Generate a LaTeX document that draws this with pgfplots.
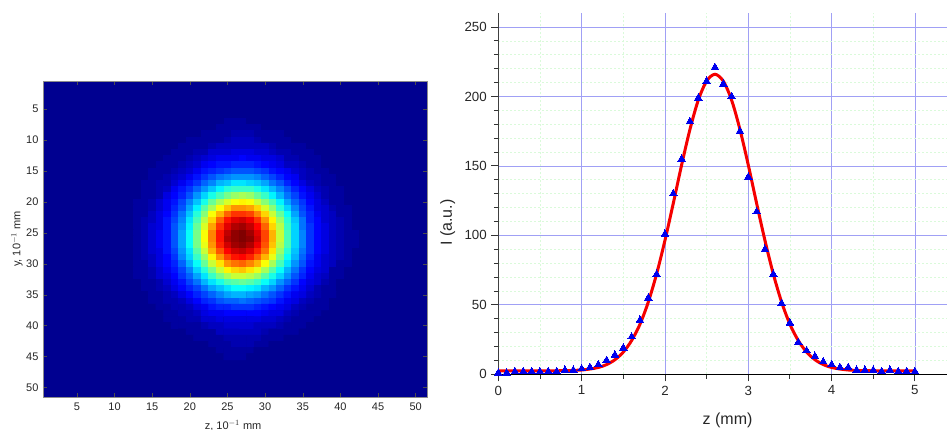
\documentclass[border=0pt]{standalone}
\usepackage{fontspec}
\setmainfont{Liberation Sans}
\usepackage{pgfplots}
\pgfplotsset{compat=1.18}
\definecolor{markblue}{RGB}{0,0,238}
\definecolor{gridblue}{RGB}{160,160,245}
\definecolor{gridgreen}{RGB}{218,250,218}
\begin{document}
\begin{tikzpicture}[x=1pt,y=1pt]
\useasboundingbox (0,0) rectangle (947,430);
\begin{axis}[
  at={(43pt,33pt)},anchor=south west,
  scale only axis,width=384pt,height=316pt,
  xmin=0.5,xmax=51.5,ymin=0.5,ymax=51.5,y dir=reverse,
  xtick={5,10,...,50},ytick={5,10,...,50},
  tick align=inside,major tick length=4pt,
  tick style={color=black!70,line width=0.5pt},
  axis line style={color=black!45,line width=0.7pt},
  /pgf/number format/assume math mode=true,
  tick label style={font=\fontsize{11}{12}\selectfont,color=black!85},
  xticklabel style={yshift=-2pt},
  yticklabel style={xshift=-1pt},
  xlabel={z, 10$^{-1}$ mm},ylabel={y, 10$^{-1}$ mm},
  label style={font=\fontsize{11}{12}\selectfont,color=black!85},
  xlabel style={at={(axis description cs:0.495,0)},anchor=center,yshift=-28.5pt},
  ylabel style={at={(axis description cs:0,0.5)},anchor=center,yshift=26pt},
  colormap/jet,point meta min=0,point meta max=63,
  axis background/.style={fill={rgb,255:red,0;green,0;blue,144}},
]
\addplot[matrix plot*,mesh/cols=34,point meta=explicit] table[
  row sep=crcr,header=false,
  x expr={mod(\coordindex,34)+11},
  y expr={floor(\coordindex/34)+7},
  meta index=0] {
1\\1\\1\\1\\1\\1\\1\\1\\1\\1\\1\\1\\1\\1\\2\\2\\2\\1\\1\\1\\1\\1\\1\\1\\1\\1\\1\\1\\1\\1\\1\\1\\1\\1\\
1\\1\\1\\1\\1\\1\\1\\1\\1\\1\\1\\1\\1\\2\\2\\2\\2\\2\\2\\1\\1\\1\\1\\1\\1\\1\\1\\1\\1\\1\\1\\1\\1\\1\\
1\\1\\1\\1\\1\\1\\1\\1\\1\\1\\1\\2\\2\\2\\2\\3\\3\\3\\2\\2\\2\\2\\1\\1\\1\\1\\1\\1\\1\\1\\1\\1\\1\\1\\
1\\1\\1\\1\\1\\1\\1\\1\\1\\2\\2\\2\\2\\2\\3\\4\\4\\4\\3\\2\\2\\2\\2\\1\\1\\1\\1\\1\\1\\1\\1\\1\\1\\1\\
1\\1\\1\\1\\1\\1\\1\\1\\2\\2\\2\\2\\3\\4\\4\\4\\4\\4\\4\\4\\3\\2\\2\\2\\2\\1\\1\\1\\1\\1\\1\\1\\1\\1\\
1\\1\\1\\1\\1\\1\\1\\2\\2\\2\\3\\3\\5\\5\\5\\6\\6\\6\\5\\5\\4\\3\\3\\2\\2\\2\\1\\1\\1\\1\\1\\1\\1\\1\\
1\\1\\1\\1\\1\\1\\2\\2\\2\\3\\4\\5\\6\\7\\7\\7\\8\\7\\7\\6\\6\\5\\3\\3\\2\\2\\2\\1\\1\\1\\1\\1\\1\\1\\
1\\1\\1\\1\\1\\2\\2\\2\\3\\4\\5\\7\\8\\9\\9\\10\\10\\10\\9\\8\\7\\6\\4\\4\\3\\2\\2\\1\\1\\1\\1\\1\\1\\1\\
1\\1\\1\\1\\2\\2\\2\\3\\4\\5\\7\\9\\10\\11\\12\\13\\13\\13\\12\\11\\9\\8\\7\\5\\4\\3\\2\\2\\1\\1\\1\\1\\1\\1\\
1\\1\\1\\1\\2\\2\\3\\4\\5\\7\\9\\11\\13\\15\\16\\17\\17\\17\\16\\14\\12\\10\\8\\7\\4\\3\\3\\2\\2\\1\\1\\1\\1\\1\\
1\\1\\1\\2\\2\\3\\3\\5\\7\\9\\11\\14\\16\\19\\20\\22\\22\\21\\20\\18\\15\\13\\10\\8\\6\\4\\3\\2\\2\\1\\1\\1\\1\\1\\
1\\1\\1\\2\\2\\3\\4\\7\\9\\11\\14\\17\\20\\23\\26\\27\\27\\27\\25\\22\\19\\16\\13\\10\\8\\6\\4\\3\\2\\2\\1\\1\\1\\1\\
1\\1\\1\\2\\2\\3\\6\\8\\10\\13\\17\\21\\25\\28\\31\\33\\34\\33\\30\\27\\23\\19\\15\\12\\9\\7\\5\\3\\2\\2\\1\\1\\1\\1\\
1\\1\\2\\2\\3\\5\\7\\9\\12\\16\\20\\25\\30\\34\\37\\39\\40\\39\\36\\32\\28\\23\\18\\14\\11\\8\\6\\4\\2\\2\\1\\1\\1\\1\\
1\\1\\2\\2\\3\\5\\7\\10\\13\\18\\23\\29\\34\\39\\43\\46\\46\\45\\42\\37\\32\\26\\21\\16\\12\\9\\6\\5\\3\\2\\2\\1\\1\\1\\
1\\1\\2\\2\\4\\6\\8\\11\\15\\20\\26\\32\\39\\44\\49\\52\\52\\51\\47\\42\\36\\30\\24\\18\\13\\10\\7\\5\\4\\2\\2\\1\\1\\1\\
1\\1\\2\\3\\4\\6\\9\\12\\16\\22\\28\\35\\42\\49\\54\\57\\58\\56\\52\\46\\40\\33\\26\\20\\15\\10\\8\\5\\4\\3\\2\\1\\1\\1\\
1\\1\\2\\3\\5\\6\\9\\13\\17\\23\\30\\37\\45\\52\\57\\60\\61\\59\\55\\49\\42\\35\\27\\21\\15\\11\\8\\6\\4\\3\\2\\1\\1\\1\\
1\\1\\2\\3\\5\\7\\9\\13\\18\\24\\31\\39\\47\\54\\59\\62\\63\\61\\57\\51\\44\\36\\28\\21\\16\\11\\8\\6\\4\\3\\2\\2\\1\\1\\
1\\1\\2\\3\\5\\7\\9\\13\\18\\24\\31\\39\\47\\54\\60\\62\\63\\62\\58\\51\\44\\36\\28\\21\\16\\11\\8\\6\\4\\3\\2\\2\\1\\1\\
1\\1\\2\\3\\5\\7\\9\\13\\18\\24\\31\\38\\46\\53\\58\\61\\62\\60\\56\\50\\43\\35\\28\\21\\16\\11\\8\\6\\4\\3\\2\\2\\1\\1\\
1\\1\\2\\3\\5\\6\\9\\12\\17\\22\\29\\36\\44\\50\\55\\58\\59\\57\\53\\48\\41\\33\\26\\20\\15\\11\\8\\6\\4\\3\\2\\1\\1\\1\\
1\\1\\2\\3\\4\\6\\8\\11\\16\\21\\27\\33\\40\\46\\51\\54\\55\\53\\49\\44\\38\\31\\24\\19\\14\\10\\7\\5\\4\\3\\2\\1\\1\\1\\
1\\1\\2\\2\\4\\6\\8\\10\\14\\19\\24\\30\\36\\41\\46\\48\\49\\47\\44\\39\\34\\28\\22\\17\\13\\9\\7\\5\\4\\2\\2\\1\\1\\1\\
1\\1\\2\\2\\3\\5\\7\\9\\12\\16\\21\\26\\31\\36\\40\\42\\43\\41\\38\\34\\29\\24\\19\\15\\11\\8\\6\\5\\2\\2\\1\\1\\1\\1\\
1\\1\\2\\2\\3\\5\\6\\8\\11\\14\\18\\22\\27\\31\\34\\36\\36\\35\\33\\29\\25\\21\\17\\13\\10\\7\\5\\4\\2\\2\\1\\1\\1\\1\\
1\\1\\1\\2\\2\\3\\5\\7\\9\\12\\15\\19\\22\\25\\28\\29\\30\\29\\27\\24\\21\\17\\14\\11\\8\\6\\5\\3\\2\\1\\1\\1\\1\\1\\
1\\1\\1\\2\\2\\3\\4\\6\\8\\10\\12\\15\\18\\20\\22\\24\\24\\23\\22\\19\\17\\14\\11\\9\\7\\5\\3\\2\\2\\1\\1\\1\\1\\1\\
1\\1\\1\\1\\2\\2\\3\\4\\6\\8\\10\\12\\14\\16\\18\\19\\19\\18\\17\\15\\13\\11\\9\\7\\6\\4\\3\\2\\2\\1\\1\\1\\1\\1\\
1\\1\\1\\1\\2\\2\\3\\3\\4\\6\\8\\10\\11\\13\\14\\14\\15\\14\\13\\12\\11\\9\\7\\6\\4\\3\\2\\2\\1\\1\\1\\1\\1\\1\\
1\\1\\1\\1\\1\\2\\2\\3\\3\\4\\6\\7\\9\\10\\10\\11\\11\\11\\10\\9\\8\\7\\6\\4\\3\\2\\2\\2\\1\\1\\1\\1\\1\\1\\
1\\1\\1\\1\\1\\1\\2\\2\\3\\3\\4\\6\\7\\7\\8\\8\\8\\8\\8\\7\\6\\6\\4\\3\\2\\2\\2\\1\\1\\1\\1\\1\\1\\1\\
1\\1\\1\\1\\1\\1\\2\\2\\2\\3\\3\\5\\5\\6\\6\\6\\6\\6\\6\\5\\5\\4\\3\\2\\2\\2\\1\\1\\1\\1\\1\\1\\1\\1\\
1\\1\\1\\1\\1\\1\\1\\2\\2\\2\\2\\3\\4\\4\\5\\5\\5\\5\\4\\4\\4\\3\\2\\2\\2\\1\\1\\1\\1\\1\\1\\1\\1\\1\\
1\\1\\1\\1\\1\\1\\1\\1\\1\\2\\2\\2\\2\\4\\4\\4\\4\\4\\4\\3\\2\\2\\2\\2\\1\\1\\1\\1\\1\\1\\1\\1\\1\\1\\
1\\1\\1\\1\\1\\1\\1\\1\\1\\1\\2\\2\\2\\2\\3\\3\\3\\3\\3\\2\\2\\2\\1\\1\\1\\1\\1\\1\\1\\1\\1\\1\\1\\1\\
1\\1\\1\\1\\1\\1\\1\\1\\1\\1\\1\\1\\2\\2\\2\\3\\3\\3\\2\\2\\1\\1\\1\\1\\1\\1\\1\\1\\1\\1\\1\\1\\1\\1\\
1\\1\\1\\1\\1\\1\\1\\1\\1\\1\\1\\1\\1\\2\\2\\2\\2\\2\\1\\1\\1\\1\\1\\1\\1\\1\\1\\1\\1\\1\\1\\1\\1\\1\\
1\\1\\1\\1\\1\\1\\1\\1\\1\\1\\1\\1\\1\\1\\2\\2\\2\\1\\1\\1\\1\\1\\1\\1\\1\\1\\1\\1\\1\\1\\1\\1\\1\\1\\
};
\end{axis}
\begin{axis}[
  at={(498.3pt,55.7pt)},anchor=south west,
  scale only axis,width=448.7pt,height=361pt,
  xmin=0,xmax=5.385,ymin=0,ymax=259.9,
  axis x line=bottom,axis y line=left,
  axis line style={-},
  x axis line style={black,line width=0.9pt},
  y axis line style={black!75,line width=1.2pt},
  xtick={0,1,2,3,4,5},ytick={0,50,100,150,200,250},
  minor xtick={0.5,1.5,2.5,3.5,4.5},
  minor ytick={10,20,30,40,60,70,80,90,110,120,130,140,160,170,180,190,210,220,230,240,260},
  tick align=outside,major tick length=7pt,minor tick length=4.5pt,
  tick style={black!80,line width=0.9pt},
  grid=both,
  major grid style={color=gridblue,line width=0.8pt},
  minor grid style={color=gridgreen,line width=0.7pt,dash pattern=on 2pt off 2pt},
  /pgf/number format/assume math mode=true,
  tick label style={font=\fontsize{13.3}{15}\selectfont,color=black!85},
  xticklabel style={yshift=-1pt},
  yticklabel style={xshift=-1pt},
  xlabel={z (mm)},ylabel={I (a.u.)},
  label style={font=\fontsize{16}{18}\selectfont,color=black!85},
  xlabel style={at={(axis description cs:0.511,0)},anchor=center,yshift=-46pt},
  ylabel style={at={(axis description cs:0,0.42)},anchor=center,yshift=50.5pt},
]
\addplot[only marks,color=markblue,mark=triangle*,mark size=4.3pt,
  mark options={solid,fill=markblue,draw=markblue,line width=0pt}] coordinates {
(0,1)(0.1,1)(0.2,2)(0.3,2)(0.4,2)(0.5,2)(0.6,2)(0.7,2)(0.8,3)(0.9,3)
(1.0,4)(1.1,5)(1.2,7)(1.3,10)(1.4,14)(1.5,19)(1.6,27)(1.7,39)(1.8,55)(1.9,72)
(2.0,101)(2.1,130)(2.2,155)(2.3,182)(2.4,199)(2.5,211)(2.6,221)(2.7,209)(2.8,200)(2.9,175)
(3.0,142)(3.1,117)(3.2,90)(3.3,72)(3.4,51)(3.5,37)(3.6,23)(3.7,17)(3.8,13)(3.9,9)
(4.0,7)(4.1,5)(4.2,5)(4.3,3)(4.4,3)(4.5,3)(4.6,2)(4.7,3)(4.8,2)(4.9,2)(5.0,2)};
\addplot[smooth,color={rgb,255:red,245;green,0;blue,0},line width=3pt] coordinates {
(0,2.5)(0.2,2.5)(0.4,2.5)(0.6,2.5)(0.8,2.6)(0.9,2.8)(1.0,3.1)(1.1,3.8)(1.2,4.9)(1.3,7)(1.4,10.5)(1.5,16)(1.6,24.3)(1.7,36)(1.8,52)(1.9,72.3)
(2.0,96.4)(2.1,123.1)(2.2,150.7)(2.3,176.3)(2.4,197.4)(2.5,211.1)(2.6,216)(2.7,211.1)(2.8,197.4)(2.9,176.3)
(3.0,150.7)(3.1,123.1)(3.2,96.4)(3.3,72.3)(3.4,52)(3.5,36)(3.6,24.3)(3.7,16)(3.8,10.5)(3.9,7)
(4.0,4.9)(4.1,3.8)(4.2,3.1)(4.3,2.8)(4.4,2.6)(4.6,2.5)(4.8,2.5)(5.0,2.5)};
\end{axis}
\end{tikzpicture}
\end{document}
